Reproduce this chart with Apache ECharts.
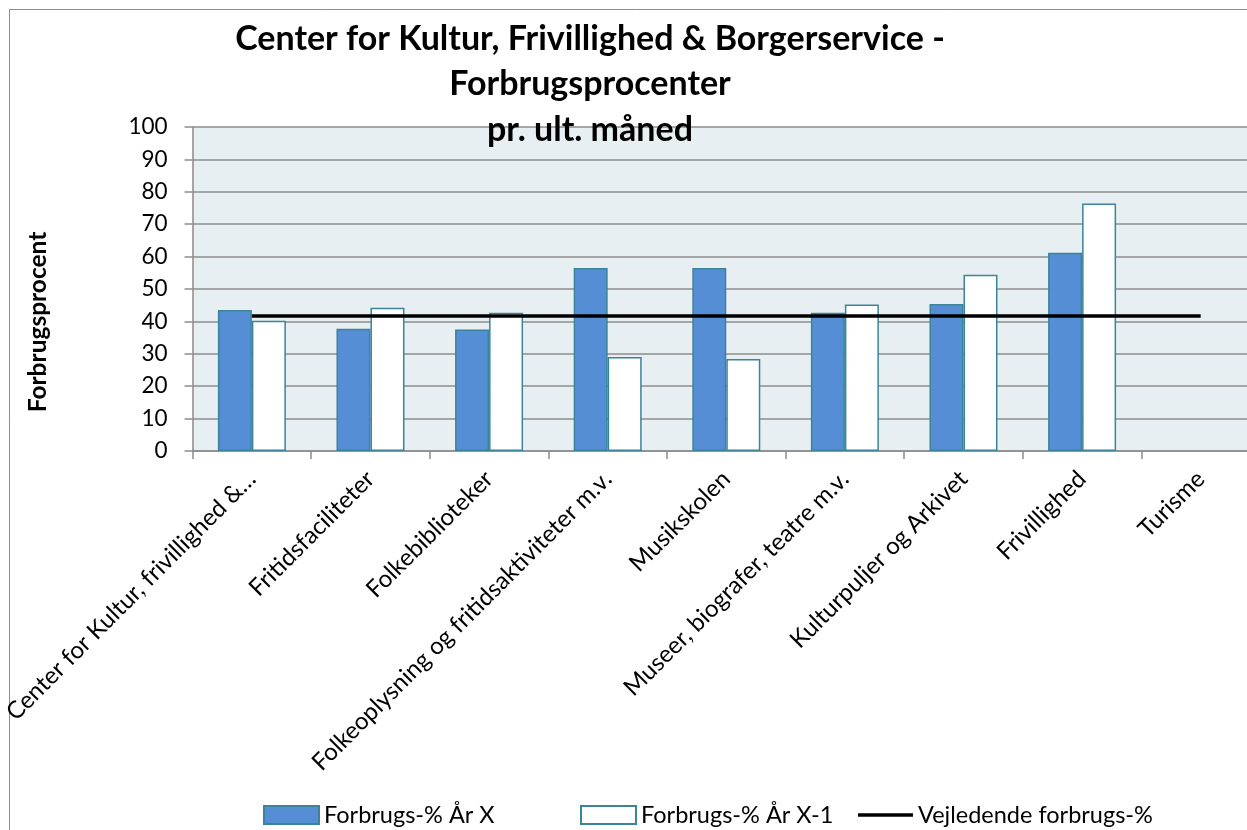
<!DOCTYPE html>
<html>
<head>
<meta charset="utf-8">
<script src="https://cdn.jsdelivr.net/npm/echarts@6/dist/echarts.min.js"></script>
<style>
html,body{margin:0;padding:0;background:#fff;overflow:hidden;}
#c{width:1262px;height:830px;}
</style>
</head>
<body>
<div id="c"></div>
<script>
const categories = ['Center for Kultur, frivillighed &…','Fritidsfaciliteter','Folkebiblioteker','Folkeoplysning og fritidsaktiviteter m.v.','Musikskolen','Museer, biografer, teatre m.v.','Kulturpuljer og Arkivet','Frivillighed','Turisme'];
const yearX  = [43.5, 37.7, 37.5, 56.5, 56.5, 42.7, 45.4, 61.2, null];
const yearX1 = [40.2, 44.2, 42.7, 29.0, 28.4, 45.2, 54.4, 76.4, null];
const guide  = [41.7, 41.7, 41.7, 41.7, 41.7, 41.7, 41.7, 41.7, 41.7];
const yTicks = { min: 0, max: 100, interval: 10 };
const seriesNames = ['Forbrugs-% År X', 'Forbrugs-% År X-1', 'Vejledende forbrugs-%'];
const titleText = 'Center for Kultur, Frivillighed & Borgerservice -\nForbrugsprocenter\npr. ult. måned';
const yName = 'Forbrugsprocent';

const FONT = 'Lato';
const chart = echarts.init(document.getElementById('c'), null, {renderer: 'canvas'});
const border = '#3B8499';
const legendCommon = {
  top: 803, itemWidth: 55, itemHeight: 18, itemGap: 0, padding: 0,
  textStyle: { fontFamily: FONT, fontSize: 23.5, color: '#000' },
  selectedMode: false
};
chart.setOption({
  animation: false,
  backgroundColor: '#fff',
  title: {
    text: titleText,
    left: 590, top: 16, padding: 0,
    textAlign: 'center',
    textStyle: { fontFamily: FONT, fontWeight: 'bold', fontSize: 34, lineHeight: 45.5, color: '#000' }
  },
  graphic: [
    { type: 'rect', shape: { x: 9.5, y: 9.5, width: 1400, height: 1000 }, style: { fill: 'none', stroke: '#8c8c8c', lineWidth: 1 }, silent: true, z: -10 },
    { type: 'text', x: 38, y: 322, rotation: Math.PI / 2,
      style: { text: yName, fontFamily: FONT, fontWeight: 'bold', fontSize: 24.5, fill: '#000', align: 'center', verticalAlign: 'middle' } }
  ],
  legend: [
    Object.assign({ left: 263, data: [{ name: seriesNames[0], icon: 'rect' }] }, legendCommon),
    Object.assign({ left: 580, data: [{ name: seriesNames[1], icon: 'rect' }] }, legendCommon),
    Object.assign({ left: 858, data: [{ name: seriesNames[2], icon: 'rect' }] }, legendCommon, { itemHeight: 3.5 })
  ],
  grid: {
    left: 191, top: 127, width: 1069, height: 324,
    show: true, backgroundColor: '#E8EFF3', borderWidth: 0,
    containLabel: false
  },
  xAxis: {
    type: 'category',
    data: categories,
    axisLine: { show: true, lineStyle: { color: '#8c8c8c', width: 1.5 } },
    axisTick: { show: true, length: 8, lineStyle: { color: '#8c8c8c', width: 1.5 } },
    axisLabel: { rotate: 45, margin: 24, interval: 0, fontFamily: FONT, fontSize: 24, color: '#000' },
    splitLine: { show: false }
  },
  yAxis: {
    type: 'value',
    min: yTicks.min, max: yTicks.max, interval: yTicks.interval,
    axisLine: { show: true, lineStyle: { color: '#8c8c8c', width: 1.5 } },
    axisTick: { show: true, length: 8, lineStyle: { color: '#8c8c8c', width: 1.5 } },
    axisLabel: { margin: 25, fontFamily: FONT, fontSize: 22.5, color: '#000' },
    splitLine: { show: true, lineStyle: { color: '#8c8c8c', width: 1.5 } }
  },
  series: [
    { name: seriesNames[0], type: 'bar', data: yearX, barWidth: 34, barGap: '0%',
      itemStyle: { color: '#558ED5', borderColor: border, borderWidth: 1.5 } },
    { name: seriesNames[1], type: 'bar', data: yearX1, barWidth: 34, barGap: '0%',
      itemStyle: { color: '#ffffff', borderColor: border, borderWidth: 1.5 } },
    { name: seriesNames[2], type: 'line', data: guide, symbol: 'none', z: 5,
      lineStyle: { color: '#000', width: 3.5 }, itemStyle: { color: '#000' } }
  ]
});
</script>
</body>
</html>
